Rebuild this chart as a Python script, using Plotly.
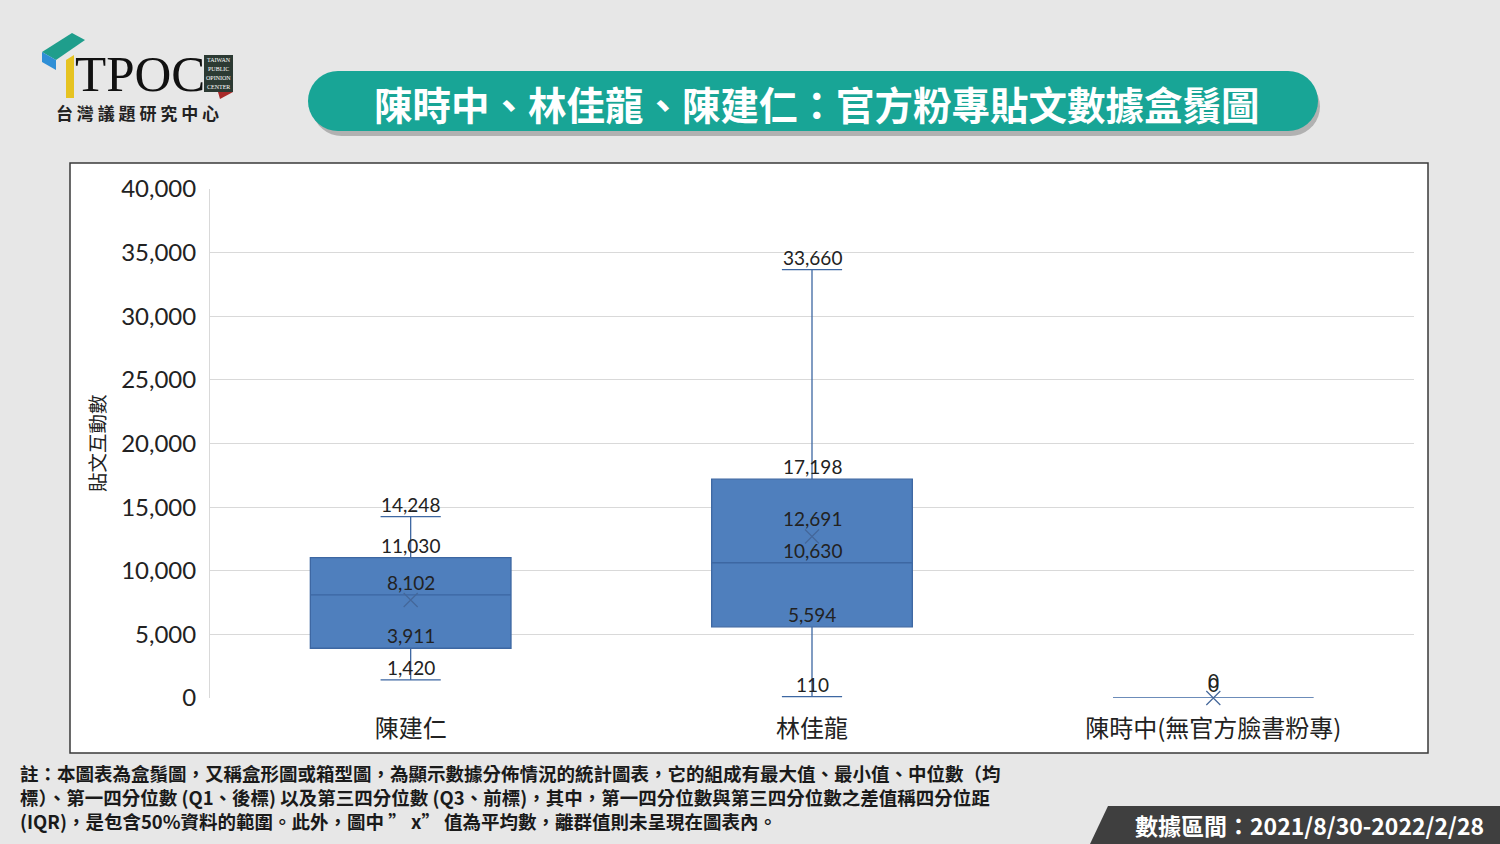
import math
import plotly.graph_objects as go

# ---------------- data ----------------
categories = ["陳建仁", "林佳龍", "陳時中(無官方臉書粉專)"]
min_vals = [1420, 110, 0]
q1_vals = [3911, 5594, 0]
median_vals = [8102, 10630, 0]
q3_vals = [11030, 17198, 0]
max_vals = [14248, 33660, 0]
mean_vals = [7700, 12691, 0]
mean_shown = [False, True, True]
y_ticks = [0, 5000, 10000, 15000, 20000, 25000, 30000, 35000, 40000]

title_text = "陳時中、林佳龍、陳建仁：官方粉專貼文數據盒鬚圖"
y_title = "貼文互動數"
footnote_lines = [
    "註：本圖表為盒鬚圖，又稱盒形圖或箱型圖，為顯示數據分佈情況的統計圖表，它的組成有最大值、最小值、中位數（均",
    "標）、第一四分位數 (Q1、後標) 以及第三四分位數 (Q3、前標)，其中，第一四分位數與第三四分位數之差值稱四分位距",
    "(IQR)，是包含50%資料的範圍。此外，圖中 ” x” 值為平均數，離群值則未呈現在圖表內。",
]
date_text = "數據區間：2021/8/30-2022/2/28"

# ---------------- geometry helpers ----------------
W, H = 1500, 844
PL, PR, PT, PB = 210, 1414, 189, 698   # plot area in pixels


def px(x):
    return (x - PL) / (PR - PL)


def py(y):
    return (PB - y) / (PB - PT)


CJK = "Noto Sans CJK TC"
NUM = "Lato"
BOX_FILL = "#4f7fbd"
BOX_LINE = "#3d67a2"

fig = go.Figure()

fig.add_trace(go.Box(
    x=categories,
    q1=q1_vals, median=median_vals, q3=q3_vals,
    lowerfence=min_vals, upperfence=max_vals,
    fillcolor=BOX_FILL,
    line=dict(color=BOX_LINE, width=1.3),
    whiskerwidth=0.3,
    boxpoints=False,
    showlegend=False,
    hoverinfo="skip",
))

fig.add_trace(go.Scatter(
    x=categories, y=mean_vals, mode="markers",
    marker=dict(symbol="x-thin", size=14,
                line=dict(color="#44679a", width=1.2)),
    cliponaxis=False,
    showlegend=False, hoverinfo="skip",
))

annotations = []
shapes = []


def note(x, y, text, font, xanchor="center", yanchor="middle", **kw):
    d = dict(x=px(x), y=py(y), xref="paper", yref="paper", text=text,
             showarrow=False, xanchor=xanchor, yanchor=yanchor, font=font)
    d.update(kw)
    annotations.append(d)


# data labels
for i, cat in enumerate(categories):
    if max_vals[i] == 0:
        for sh in [0, 4]:
            annotations.append(dict(
                x=cat, y=0, xref="x", yref="y", text="0", showarrow=False,
                xanchor="center", yanchor="bottom", yshift=sh,
                font=dict(family=NUM, size=19, color="#222")))
        continue
    vals = [max_vals[i], q3_vals[i], median_vals[i], q1_vals[i], min_vals[i]]
    if mean_shown[i]:
        vals.append(mean_vals[i])
    for v in vals:
        shift = 6 if (mean_shown[i] and v == mean_vals[i]) else 0
        annotations.append(dict(
            x=cat, y=v, xref="x", yref="y", text=f"{v:,}", showarrow=False,
            xanchor="center", yanchor="bottom", yshift=shift - 1,
            font=dict(family=NUM, size=19, color="#222")))

# chart panel (white rectangle)
shapes.append(dict(type="rect", xref="paper", yref="paper", layer="below",
                   x0=px(70), x1=px(1428), y0=py(753), y1=py(163),
                   fillcolor="white", line=dict(color="#3a3a3a", width=1.5)))


def pill(x0, x1, y0, y1):
    r = (y1 - y0) / 2
    pts = []
    for k in range(0, 19):
        a = math.pi / 2 + k * math.pi / 18
        pts.append((x0 + r + r * math.cos(a), y0 + r - r * math.sin(a)))
    for k in range(0, 19):
        a = -math.pi / 2 + k * math.pi / 18
        pts.append((x1 - r + r * math.cos(a), y0 + r - r * math.sin(a)))
    return "M " + " L ".join(f"{px(a):.5f},{py(b):.5f}" for a, b in pts) + " Z"


shapes.append(dict(type="path", xref="paper", yref="paper",
                   path=pill(312, 1320, 77, 136), fillcolor="rgba(110,110,110,0.45)",
                   line=dict(width=0)))
shapes.append(dict(type="path", xref="paper", yref="paper",
                   path=pill(308, 1318, 71, 131), fillcolor="#18a596",
                   line=dict(width=0)))
note(817, 103, title_text, dict(family=CJK, size=38.5, color="white", weight="bold"))


def poly(points, color):
    return dict(type="path", xref="paper", yref="paper",
                path="M " + " L ".join(f"{px(a):.5f},{py(b):.5f}" for a, b in points) + " Z",
                fillcolor=color, line=dict(width=0))


# logo
shapes.append(poly([(42, 52), (72, 33), (85, 40), (56, 60)], "#1f9e8c"))
shapes.append(poly([(42, 52), (56, 60), (56, 70), (42, 62)], "#2f8fd6"))
shapes.append(poly([(66, 60), (74, 55), (74, 98), (66, 98)], "#e6c321"))
shapes.append(dict(type="rect", xref="paper", yref="paper",
                   x0=px(204), x1=px(233), y0=py(92), y1=py(55),
                   fillcolor="#2c3a33", line=dict(width=0)))
shapes.append(poly([(218, 92), (233, 92), (220, 99)], "#a82a2a"))
note(73, 74, "TPOC", dict(family="Liberation Serif", size=51, color="#111"), xanchor="left")
for k, t in enumerate(["TAIWAN", "PUBLIC", "OPINION", "CENTER"]):
    note(218.5, 59.5 + k * 9.3, t, dict(family="Liberation Serif", size=6, color="white"))
note(137, 112, "台 灣 議 題 研 究 中 心", dict(family=CJK, size=17, color="#222", weight="bold"))

# y-axis title
note(96, 443, y_title, dict(family=CJK, size=19.5, color="#222"), textangle=-90)

# footnote (one block, three lines)
note(18, 797, "<br>".join(footnote_lines),
     dict(family=CJK, size=18.5, color="#1a1a1a", weight="bold"),
     xanchor="left", align="left")

# date band bottom-right
shapes.append(poly([(1090, 844), (1108, 806), (1500, 806), (1500, 844)], "#3f3f3f"))
note(1309, 825, date_text, dict(family=CJK, size=23, color="white", weight="bold"))

fig.update_layout(
    width=W, height=H,
    margin=dict(l=PL, r=W - PR, t=PT, b=H - PB, pad=0),
    paper_bgcolor="#e7e7e7",
    plot_bgcolor="white",
    boxgap=0.5,
    boxgroupgap=0,
    showlegend=False,
    shapes=shapes,
    annotations=annotations,
    xaxis=dict(
        tickfont=dict(family=CJK, size=24, color="#222"),
        showgrid=False, showline=False, ticks="",
        ticklabelstandoff=14,
    ),
    yaxis=dict(
        range=[0, 40000], tickvals=y_ticks,
        ticktext=[f"{v:,}" for v in y_ticks],
        tickfont=dict(family=NUM, size=24, color="#222"),
        showgrid=True, gridcolor="#d9d9d9", gridwidth=1,
        zeroline=False, showline=True, linecolor="#d9d9d9",
        ticks="", ticklabelstandoff=8,
    ),
)

fig.write_html("out.html")
